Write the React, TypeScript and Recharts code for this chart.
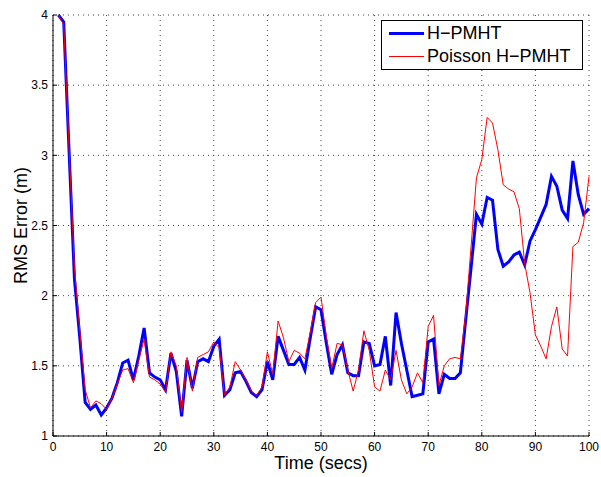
import { LineChart, Line, XAxis, YAxis, CartesianGrid, Label } from 'recharts';

// time steps (secs)
const TIME = [
    1, 2, 3, 4, 5, 6, 7, 8, 9, 10,
    11, 12, 13, 14, 15, 16, 17, 18, 19, 20,
    21, 22, 23, 24, 25, 26, 27, 28, 29, 30,
    31, 32, 33, 34, 35, 36, 37, 38, 39, 40,
    41, 42, 43, 44, 45, 46, 47, 48, 49, 50,
    51, 52, 53, 54, 55, 56, 57, 58, 59, 60,
    61, 62, 63, 64, 65, 66, 67, 68, 69, 70,
    71, 72, 73, 74, 75, 76, 77, 78, 79, 80,
    81, 82, 83, 84, 85, 86, 87, 88, 89, 90,
    91, 92, 93, 94, 95, 96, 97, 98, 99, 100,
];

const HPMHT = [
    4.0, 3.95, 3.03, 2.12, 1.7, 1.24, 1.19, 1.22, 1.15, 1.2,
    1.27, 1.38, 1.52, 1.54, 1.4, 1.57, 1.77, 1.45, 1.42, 1.4,
    1.33, 1.59, 1.46, 1.14, 1.54, 1.34, 1.53, 1.55, 1.53, 1.64,
    1.69, 1.29, 1.33, 1.45, 1.46, 1.39, 1.31, 1.28, 1.33, 1.53,
    1.4, 1.71, 1.61, 1.51, 1.51, 1.56, 1.47, 1.7, 1.92, 1.9,
    1.66, 1.44, 1.58, 1.65, 1.45, 1.43, 1.43, 1.67, 1.66, 1.5,
    1.51, 1.71, 1.36, 1.88, 1.66, 1.47, 1.28, 1.29, 1.3, 1.67,
    1.69, 1.3, 1.44, 1.41, 1.41, 1.45, 1.83, 2.2, 2.58, 2.51,
    2.7, 2.68, 2.33, 2.21, 2.24, 2.29, 2.31, 2.22, 2.39, 2.47,
    2.56, 2.65, 2.85, 2.78, 2.61, 2.55, 2.96, 2.72, 2.58, 2.62,
];

const POISSON = [
    4.0, 3.93, 3.05, 2.2, 1.75, 1.33, 1.2, 1.25, 1.23, 1.19,
    1.27, 1.37, 1.47, 1.48, 1.38, 1.54, 1.69, 1.42, 1.4, 1.37,
    1.31, 1.6, 1.5, 1.17, 1.56, 1.32, 1.56, 1.58, 1.6, 1.67,
    1.63, 1.29, 1.35, 1.53, 1.47, 1.4, 1.32, 1.29, 1.35, 1.6,
    1.44, 1.82, 1.7, 1.53, 1.61, 1.59, 1.55, 1.74, 1.95, 1.99,
    1.71, 1.48, 1.66, 1.65, 1.47, 1.32, 1.47, 1.75, 1.61, 1.35,
    1.32, 1.47, 1.4, 1.61, 1.4, 1.3, 1.35, 1.45, 1.38, 1.78,
    1.86, 1.36, 1.5, 1.55, 1.56, 1.55, 1.87, 2.35, 2.84, 2.97,
    3.27, 3.23, 3.04, 2.79, 2.76, 2.74, 2.62, 2.23, 2.02, 1.72,
    1.64, 1.55, 1.78, 1.92, 1.62, 1.57, 2.35, 2.38, 2.52, 2.85,
];

const X_TICKS = [0, 10, 20, 30, 40, 50, 60, 70, 80, 90, 100];
const Y_TICKS = [1, 1.5, 2, 2.5, 3, 3.5, 4];

const FONT = '"Liberation Sans", Arial, Helvetica, sans-serif';

const data = TIME.map((t, i) => ({ time: t, hpmht: HPMHT[i], poisson: POISSON[i] }));

export default function App() {
    return (
        <div style={{ position: 'absolute', left: 0, top: 0, width: 601, height: 477, background: '#fff', fontFamily: FONT }}>
            <LineChart width={601} height={477} data={data} margin={{ top: 15, right: 12, bottom: 0, left: 0 }}>
                <CartesianGrid stroke="#444" strokeDasharray="1 4" strokeWidth={1} />
                <XAxis
                    type="number"
                    dataKey="time"
                    domain={[0, 100]}
                    ticks={X_TICKS}
                    height={41}
                    stroke="#000"
                    tickSize={-4}
                    tickMargin={10}
                    tick={{ fill: '#000', fontSize: 12, fontFamily: FONT }}
                >
                    <Label
                        content={({ viewBox }: any) => (
                            <text
                                x={viewBox.x + viewBox.width / 2}
                                y={viewBox.y + 33}
                                textAnchor="middle"
                                fontSize={18}
                                fontFamily={FONT}
                                fill="#000"
                            >
                                Time (secs)
                            </text>
                        )}
                    />
                </XAxis>
                <YAxis
                    type="number"
                    domain={[1, 4]}
                    ticks={Y_TICKS}
                    width={53}
                    stroke="#000"
                    tickSize={-4}
                    tickMargin={9}
                    tick={{ fill: '#000', fontSize: 12, fontFamily: FONT }}
                >
                    <Label
                        content={({ viewBox }: any) => {
                            const cx = viewBox.x + 27;
                            const cy = viewBox.y + viewBox.height / 2;
                            return (
                                <text
                                    x={cx}
                                    y={cy}
                                    transform={`rotate(-90 ${cx} ${cy})`}
                                    textAnchor="middle"
                                    fontSize={18}
                                    fontFamily={FONT}
                                    fill="#000"
                                >
                                    RMS Error (m)
                                </text>
                            );
                        }}
                    />
                </YAxis>
                <Line
                    type="linear"
                    dataKey="hpmht"
                    stroke="#0000ff"
                    strokeWidth={3}
                    dot={false}
                    isAnimationActive={false}
                />
                <Line
                    type="linear"
                    dataKey="poisson"
                    stroke="#ff0000"
                    strokeWidth={1}
                    dot={false}
                    isAnimationActive={false}
                />
            </LineChart>

            {/* Legend */}
            <div
                style={{
                    position: 'absolute',
                    left: 381,
                    top: 20,
                    width: 200,
                    height: 48,
                    border: '1px solid #000',
                    background: '#fff',
                    fontSize: 18,
                    lineHeight: '23px',
                    color: '#000',
                }}
            >
                <div style={{ position: 'absolute', left: 7, top: 11, width: 35, height: 3, background: '#0000ff' }} />
                <div style={{ position: 'absolute', left: 45, top: 1, whiteSpace: 'nowrap' }}>H−PMHT</div>
                <div style={{ position: 'absolute', left: 7, top: 35, width: 35, height: 1, background: '#ff0000' }} />
                <div style={{ position: 'absolute', left: 45, top: 24, whiteSpace: 'nowrap' }}>Poisson H−PMHT</div>
            </div>
        </div>
    );
}
